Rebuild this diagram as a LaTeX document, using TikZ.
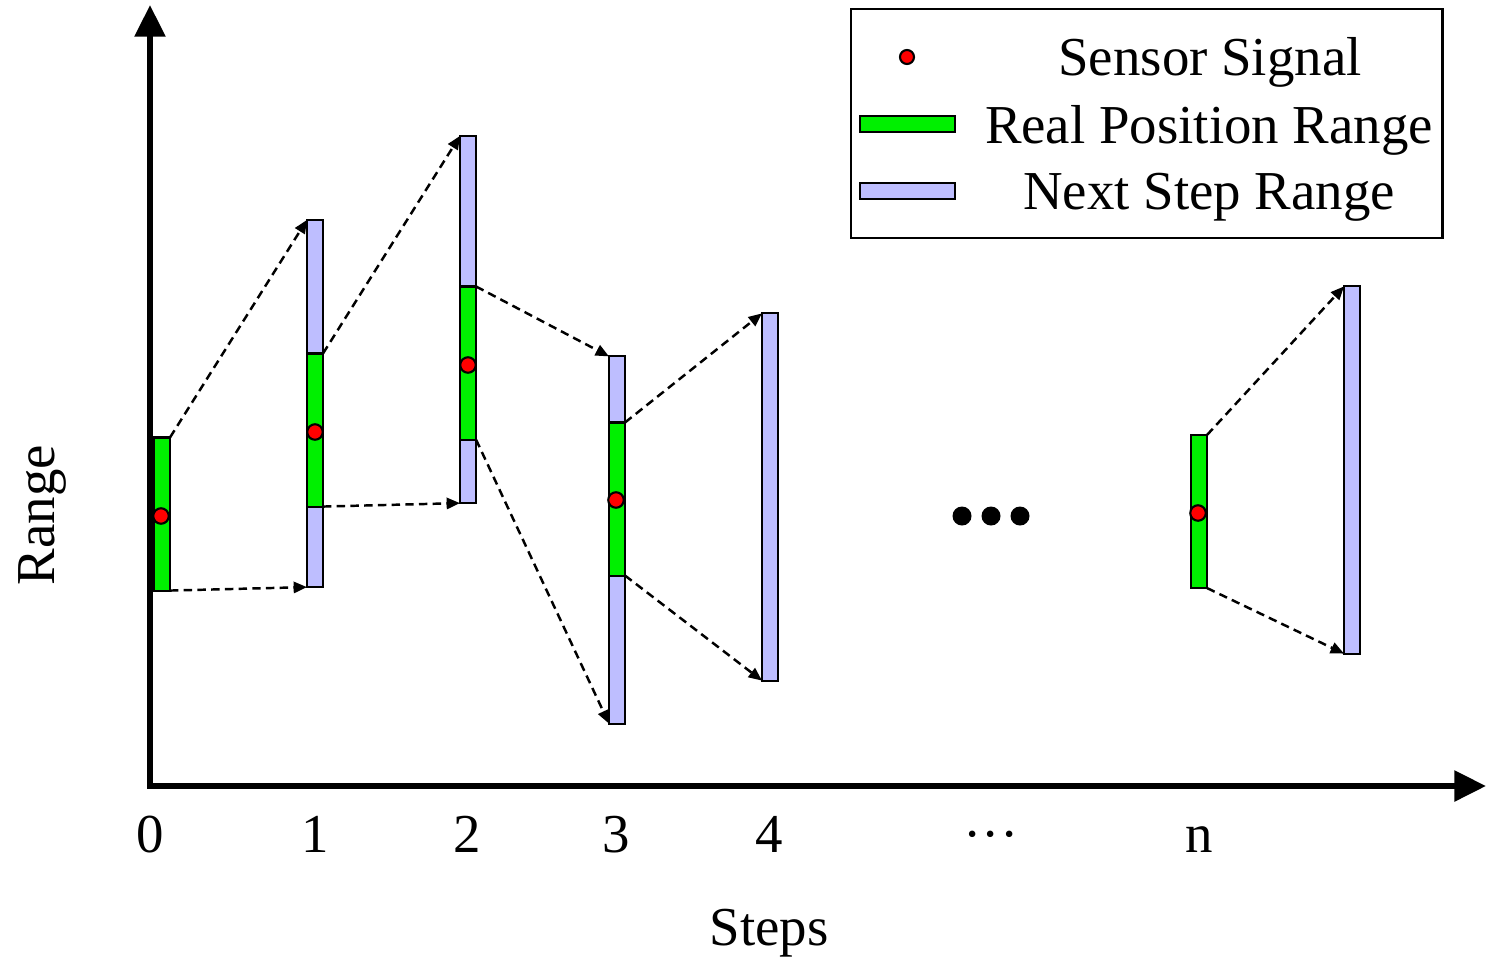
\documentclass[tikz,border=0pt]{standalone}
\usepackage{fontspec}
\setmainfont{Liberation Serif}
\usetikzlibrary{arrows.meta}
\definecolor{gbar}{RGB}{0,240,0}
\definecolor{bbar}{RGB}{190,190,255}
\begin{document}
\begin{tikzpicture}[x=0.01cm,y=-0.01cm,
  font=\fontsize{15.6}{18}\selectfont,
  bar/.style={draw, line width=0.6pt, inner sep=0pt, outer sep=0pt, minimum width=0.16cm},
  gbarstyle/.style={bar, fill=gbar, minimum height=1.53cm},
  bbarstyle/.style={bar, fill=bbar, minimum height=3.67cm},
  sdot/.style={circle, draw, fill=red, line width=0.6pt, inner sep=0pt, minimum size=0.155cm},
  bigdot/.style={circle, fill=black, inner sep=0pt, minimum size=0.19cm},
  conn/.style={dash pattern=on 2.4pt off 1.5pt, line width=0.7pt, -{Triangle[length=3.8pt,width=3.2pt]}},
  axis/.style={line width=1.7pt, {Triangle[length=9pt,width=8.5pt]}-{Triangle[length=9pt,width=8.5pt]}},
  lab/.style={anchor=base, inner sep=0pt},
  legbox/.style={draw, line width=0.7pt, inner sep=0pt, outer sep=0pt, anchor=north west, minimum width=5.91cm, minimum height=2.29cm},
  legbar/.style={draw, line width=0.6pt, inner sep=0pt, outer sep=0pt, minimum width=0.95cm, minimum height=0.16cm}
]
\useasboundingbox (0,0) rectangle (1486,957);

% axes
\coordinate (O) at (150,786);
\coordinate (ytop) at (150,5);
\coordinate (xend) at (1486,786);
\draw[axis] (ytop) -- (O) -- (xend);

% next-step (blue) bars
\node[bbarstyle] (b1) at (315,403.5) {};
\node[bbarstyle] (b2) at (468,319.5) {};
\node[bbarstyle] (b3) at (617,540) {};
\node[bbarstyle] (b4) at (770,497) {};
\node[bbarstyle] (bn) at (1352,470) {};

% real position (green) bars
\node[gbarstyle] (g0) at (162,514) {};
\node[gbarstyle] (g1) at (315,430) {};
\node[gbarstyle] (g2) at (468,363) {};
\node[gbarstyle] (g3) at (617,499) {};
\node[gbarstyle] (gn) at (1199,511.5) {};

% sensor signals
\node[sdot] (s0) at (161,516) {};
\node[sdot] (s1) at (315,432) {};
\node[sdot] (s2) at (468,365) {};
\node[sdot] (s3) at (616,500) {};
\node[sdot] (sn) at (1198,513) {};

% connectors
\draw[conn] (g0.north east) -- (b1.north west);
\draw[conn] (g0.south east) -- (b1.south west);
\draw[conn] (g1.north east) -- (b2.north west);
\draw[conn] (g1.south east) -- (b2.south west);
\draw[conn] (g2.north east) -- (b3.north west);
\draw[conn] (g2.south east) -- (b3.south west);
\draw[conn] (g3.north east) -- (b4.north west);
\draw[conn] (g3.south east) -- (b4.south west);
\draw[conn] (gn.north east) -- (bn.north west);
\draw[conn] (gn.south east) -- (bn.south west);

% big ellipsis
\node[bigdot] (d1) at (962,516) {};
\node[bigdot] (d2) at (991,516) {};
\node[bigdot] (d3) at (1020,516) {};

% tick labels
\node[lab] (t0) at (150,852) {0};
\node[lab] (t1) at (315,852) {1};
\node[lab] (t2) at (467,852) {2};
\node[lab] (t3) at (616,852) {3};
\node[lab] (t4) at (769,852) {4};
\node[lab] (tdots) at (991,852) {···};
\node[lab] (tn) at (1199,852) {n};

% axis titles
\node[lab] (steps) at (769,945) {Steps};
\node[rotate=90, inner sep=0pt] (range) at (42,515) {Range};

% legend
\node[legbox] (legend) at (851,9) {};
\node[sdot, minimum size=0.14cm] (ls) at (907,57) {};
\node[legbar, fill=gbar] (lg) at (907.5,124) {};
\node[legbar, fill=bbar] (lb) at (907.5,191) {};
\node[lab] (lt1) at (1210,75) {Sensor Signal};
\node[lab] (lt2) at (1209,143) {Real Position Range};
\node[lab] (lt3) at (1209,209) {Next Step Range};
\end{tikzpicture}
\end{document}
